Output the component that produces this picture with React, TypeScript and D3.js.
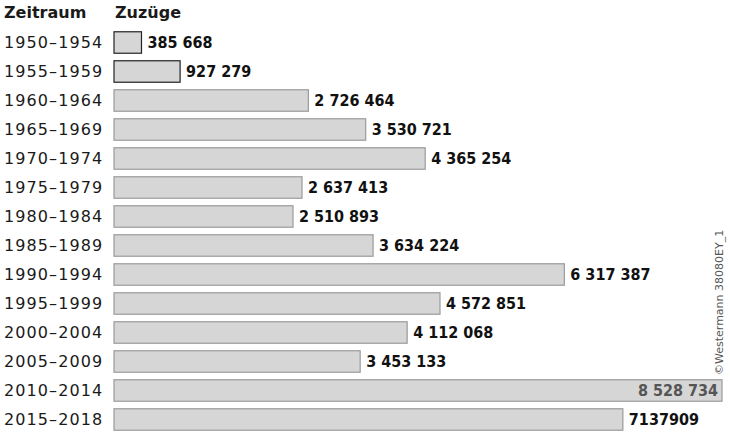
import React, { useEffect, useRef } from "react";
import * as d3 from "d3";

const periods = [
  "1950–1954", "1955–1959", "1960–1964", "1965–1969", "1970–1974",
  "1975–1979", "1980–1984", "1985–1989", "1990–1994", "1995–1999",
  "2000–2004", "2005–2009", "2010–2014", "2015–2018",
];
const arrivals = [
  385668, 927279, 2726464, 3530721, 4365254, 2637413, 2510893,
  3634224, 6317387, 4572851, 4112068, 3453133, 8528734, 7137909,
];
const valueLabels = [
  "385 668", "927 279", "2 726 464", "3 530 721", "4 365 254", "2 637 413",
  "2 510 893", "3 634 224", "6 317 387", "4 572 851", "4 112 068",
  "3 453 133", "8 528 734", "7137909",
];

const W = 730;
const H = 439;
const numFont = "'Liberation Sans Narrow', 'DejaVu Sans Condensed', 'Arial Narrow', sans-serif";
const textFont = "'DejaVu Sans', 'Liberation Sans', sans-serif";

export default function App() {
  const ref = useRef<SVGSVGElement>(null);

  useEffect(() => {
    const svg = d3.select(ref.current);
    svg.selectAll("*").remove();

    const x = d3.scaleLinear().domain([0, 8528734]).range([114, 722]);
    const y = d3.scaleBand().domain(periods).range([28, 434]).paddingInner(0.26).paddingOuter(0.13);

    svg.append("rect").attr("width", W).attr("height", H).attr("fill", "#fff");

    svg.append("text").attr("x", 4).attr("y", 18).text("Zeitraum")
      .attr("font-family", textFont).attr("font-weight", "bold").attr("font-size", 16).attr("fill", "#1a1a1a");
    svg.append("text").attr("x", 115).attr("y", 18).text("Zuzüge")
      .attr("font-family", textFont).attr("font-weight", "bold").attr("font-size", 16).attr("fill", "#1a1a1a");

    const rows = svg.selectAll("g.row").data(periods).enter().append("g").attr("class", "row");

    rows.append("text")
      .attr("x", 4)
      .attr("y", (d) => y(d)! + y.bandwidth() / 2)
      .attr("dy", "0.36em")
      .attr("font-family", textFont)
      .attr("font-size", 16)
      .attr("letter-spacing", 1.1)
      .attr("fill", "#1a1a1a")
      .text((d) => d);

    rows.append("rect")
      .attr("x", x(0))
      .attr("y", (d) => y(d)!)
      .attr("width", (d, i) => x(arrivals[i]) - x(0))
      .attr("height", y.bandwidth())
      .attr("fill", "#d6d6d6")
      .attr("stroke", (d, i) => (i < 2 ? "#222" : "#9a9a9a"))
      .attr("stroke-width", 1.2);

    rows.append("text")
      .attr("x", (d, i) => (i === 12 ? x(arrivals[i]) - 4 : x(arrivals[i]) + 6))
      .attr("y", (d) => y(d)! + y.bandwidth() / 2)
      .attr("dy", "0.36em")
      .attr("text-anchor", (d, i) => (i === 12 ? "end" : "start"))
      .attr("font-family", numFont)
      .attr("font-weight", "bold")
      .attr("font-size", 16)
      .attr("fill", (d, i) => (i === 12 ? "#555" : "#111"))
      .text((d, i) => valueLabels[i]);

    svg.append("text")
      .attr("transform", "translate(723,375) rotate(-90)")
      .attr("font-family", textFont)
      .attr("font-size", 11)
      .attr("fill", "#555")
      .text("©Westermann 38080EY_1");
  }, []);

  return (
    <svg
      ref={ref}
      width={W}
      height={H}
      style={{ display: "block", position: "absolute", left: 0, top: 0 }}
    />
  );
}
